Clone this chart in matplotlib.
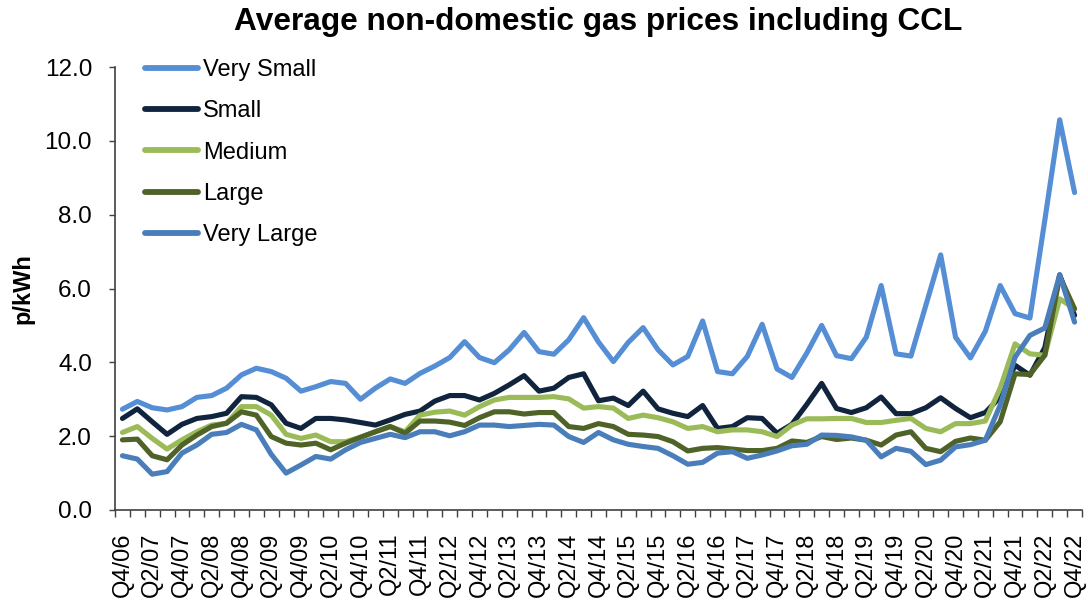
import matplotlib
matplotlib.use("Agg")
import matplotlib.pyplot as plt
from matplotlib.ticker import FixedLocator, FormatStrFormatter

plt.rcParams['font.family'] = ['Liberation Sans', 'DejaVu Sans']

quarters = [
    "Q4/06",
    "Q1/07", "Q2/07", "Q3/07", "Q4/07",
    "Q1/08", "Q2/08", "Q3/08", "Q4/08",
    "Q1/09", "Q2/09", "Q3/09", "Q4/09",
    "Q1/10", "Q2/10", "Q3/10", "Q4/10",
    "Q1/11", "Q2/11", "Q3/11", "Q4/11",
    "Q1/12", "Q2/12", "Q3/12", "Q4/12",
    "Q1/13", "Q2/13", "Q3/13", "Q4/13",
    "Q1/14", "Q2/14", "Q3/14", "Q4/14",
    "Q1/15", "Q2/15", "Q3/15", "Q4/15",
    "Q1/16", "Q2/16", "Q3/16", "Q4/16",
    "Q1/17", "Q2/17", "Q3/17", "Q4/17",
    "Q1/18", "Q2/18", "Q3/18", "Q4/18",
    "Q1/19", "Q2/19", "Q3/19", "Q4/19",
    "Q1/20", "Q2/20", "Q3/20", "Q4/20",
    "Q1/21", "Q2/21", "Q3/21", "Q4/21",
    "Q1/22", "Q2/22", "Q3/22", "Q4/22",
]

very_small = [2.73, 2.94, 2.77, 2.71, 2.80, 3.05, 3.10, 3.30, 3.66, 3.84,
              3.75, 3.57, 3.22, 3.34, 3.48, 3.43, 3.00, 3.30, 3.55, 3.43,
              3.70, 3.90, 4.13, 4.56, 4.13, 3.99, 4.34, 4.81, 4.29, 4.22,
              4.61, 5.21, 4.55, 4.02, 4.54, 4.94, 4.34, 3.93, 4.16, 5.12,
              3.75, 3.69, 4.16, 5.03, 3.82, 3.59, 4.25, 5.00, 4.18, 4.10,
              4.68, 6.08, 4.23, 4.17, 5.54, 6.91, 4.68, 4.12, 4.84, 6.08,
              5.32, 5.20, 7.85, 10.57, 8.60]

small = [2.48, 2.74, 2.39, 2.05, 2.32, 2.48, 2.53, 2.62, 3.07, 3.05,
         2.85, 2.35, 2.21, 2.48, 2.48, 2.44, 2.37, 2.30, 2.44, 2.59,
         2.68, 2.95, 3.10, 3.10, 2.98, 3.16, 3.39, 3.64, 3.22, 3.30,
         3.59, 3.69, 2.96, 3.03, 2.83, 3.22, 2.74, 2.62, 2.53, 2.83,
         2.21, 2.26, 2.50, 2.48, 2.08, 2.32, 2.86, 3.43, 2.75, 2.64,
         2.77, 3.06, 2.61, 2.61, 2.77, 3.04, 2.75, 2.50, 2.64, 3.06,
         3.92, 3.65, 4.40, 6.37, 5.27]

medium = [2.10, 2.26, 1.94, 1.65, 1.90, 2.12, 2.30, 2.35, 2.80, 2.80,
          2.57, 2.05, 1.94, 2.03, 1.85, 1.85, 1.97, 2.12, 2.26, 2.12,
          2.57, 2.65, 2.68, 2.57, 2.80, 2.98, 3.05, 3.05, 3.05, 3.07,
          3.01, 2.76, 2.80, 2.76, 2.48, 2.57, 2.50, 2.39, 2.21, 2.26,
          2.12, 2.17, 2.17, 2.12, 1.99, 2.30, 2.47, 2.47, 2.48, 2.48,
          2.37, 2.37, 2.43, 2.48, 2.21, 2.12, 2.34, 2.34, 2.41, 3.30,
          4.50, 4.23, 4.19, 5.72, 5.45]

large = [1.90, 1.92, 1.47, 1.36, 1.76, 2.03, 2.26, 2.35, 2.66, 2.57,
         1.99, 1.81, 1.76, 1.81, 1.63, 1.81, 1.97, 2.12, 2.26, 2.08,
         2.41, 2.41, 2.38, 2.29, 2.50, 2.66, 2.66, 2.60, 2.64, 2.64,
         2.26, 2.21, 2.34, 2.26, 2.05, 2.03, 1.99, 1.85, 1.60, 1.67,
         1.69, 1.65, 1.61, 1.61, 1.67, 1.87, 1.83, 1.99, 1.91, 1.95,
         1.89, 1.76, 2.03, 2.12, 1.67, 1.58, 1.86, 1.95, 1.89, 2.39,
         3.69, 3.67, 4.19, 6.33, 5.45]

very_large = [1.47, 1.38, 0.97, 1.04, 1.54, 1.76, 2.05, 2.10, 2.32, 2.17,
              1.51, 1.00, 1.22, 1.45, 1.38, 1.63, 1.83, 1.94, 2.05, 1.96,
              2.12, 2.12, 2.01, 2.12, 2.30, 2.30, 2.26, 2.29, 2.32, 2.30,
              1.99, 1.83, 2.10, 1.90, 1.78, 1.72, 1.67, 1.47, 1.24, 1.29,
              1.54, 1.58, 1.40, 1.49, 1.60, 1.74, 1.78, 2.03, 2.02, 1.98,
              1.89, 1.44, 1.67, 1.59, 1.23, 1.35, 1.71, 1.77, 1.89, 2.84,
              4.14, 4.73, 4.93, 6.37, 5.09]

series_names = ["Very Small", "Small", "Medium", "Large", "Very Large"]
series_values = [very_small, small, medium, large, very_large]
series_colors = ["#558ED5", "#10243E", "#9BBB59", "#4F6228", "#4A7EBB"]

y_ticks = [0.0, 2.0, 4.0, 6.0, 8.0, 10.0, 12.0]

fig = plt.figure(figsize=(10.88, 6.07), dpi=100)
ax = fig.add_axes([115 / 1088, 1 - 510 / 607, (1082 - 115) / 1088, (510 - 67) / 607])

x = list(range(len(quarters)))
for name, vals, col in zip(series_names, series_values, series_colors):
    ax.plot(x, vals, color=col, lw=3.7, label=name,
            solid_capstyle='round', solid_joinstyle='round')

ax.set_xlim(-0.5, len(quarters) - 0.5)
ax.set_ylim(0, 12)
ax.set_yticks(y_ticks)
ax.yaxis.set_major_formatter(FormatStrFormatter('%.1f'))

ax.set_xticks(x[::2])
ax.set_xticklabels(quarters[::2], rotation=90)
ax.xaxis.set_minor_locator(FixedLocator([i - 0.5 for i in range(len(quarters) + 1)]))
ax.tick_params(axis='x', which='major', length=0, pad=16, labelsize=17)
ax.tick_params(axis='x', which='minor', length=5, width=1, color='#404040', direction='out')
ax.tick_params(axis='y', which='major', length=4, width=1, color='#404040',
               direction='out', labelsize=17.5, pad=12.5)

for s in ['top', 'right']:
    ax.spines[s].set_visible(False)
for s in ['left', 'bottom']:
    ax.spines[s].set_color('#404040')
    ax.spines[s].set_linewidth(1.2)

ax.set_ylabel("p/kWh", fontsize=17, fontweight='bold')
ax.yaxis.set_label_coords(-0.083, 0.5)
ax.set_title("Average non-domestic gas prices including CCL", fontsize=22.8,
             fontweight='bold', pad=26.5)

leg = fig.legend(loc='upper left', bbox_to_anchor=(145 / 1088, 1 - 59 / 607),
                 frameon=False, fontsize=17, handlelength=2.25, handletextpad=0.2,
                 labelspacing=0.82, borderpad=0, borderaxespad=0)
for line in leg.get_lines():
    line.set_linewidth(4.2)

fig.savefig("out.png", dpi=100)
